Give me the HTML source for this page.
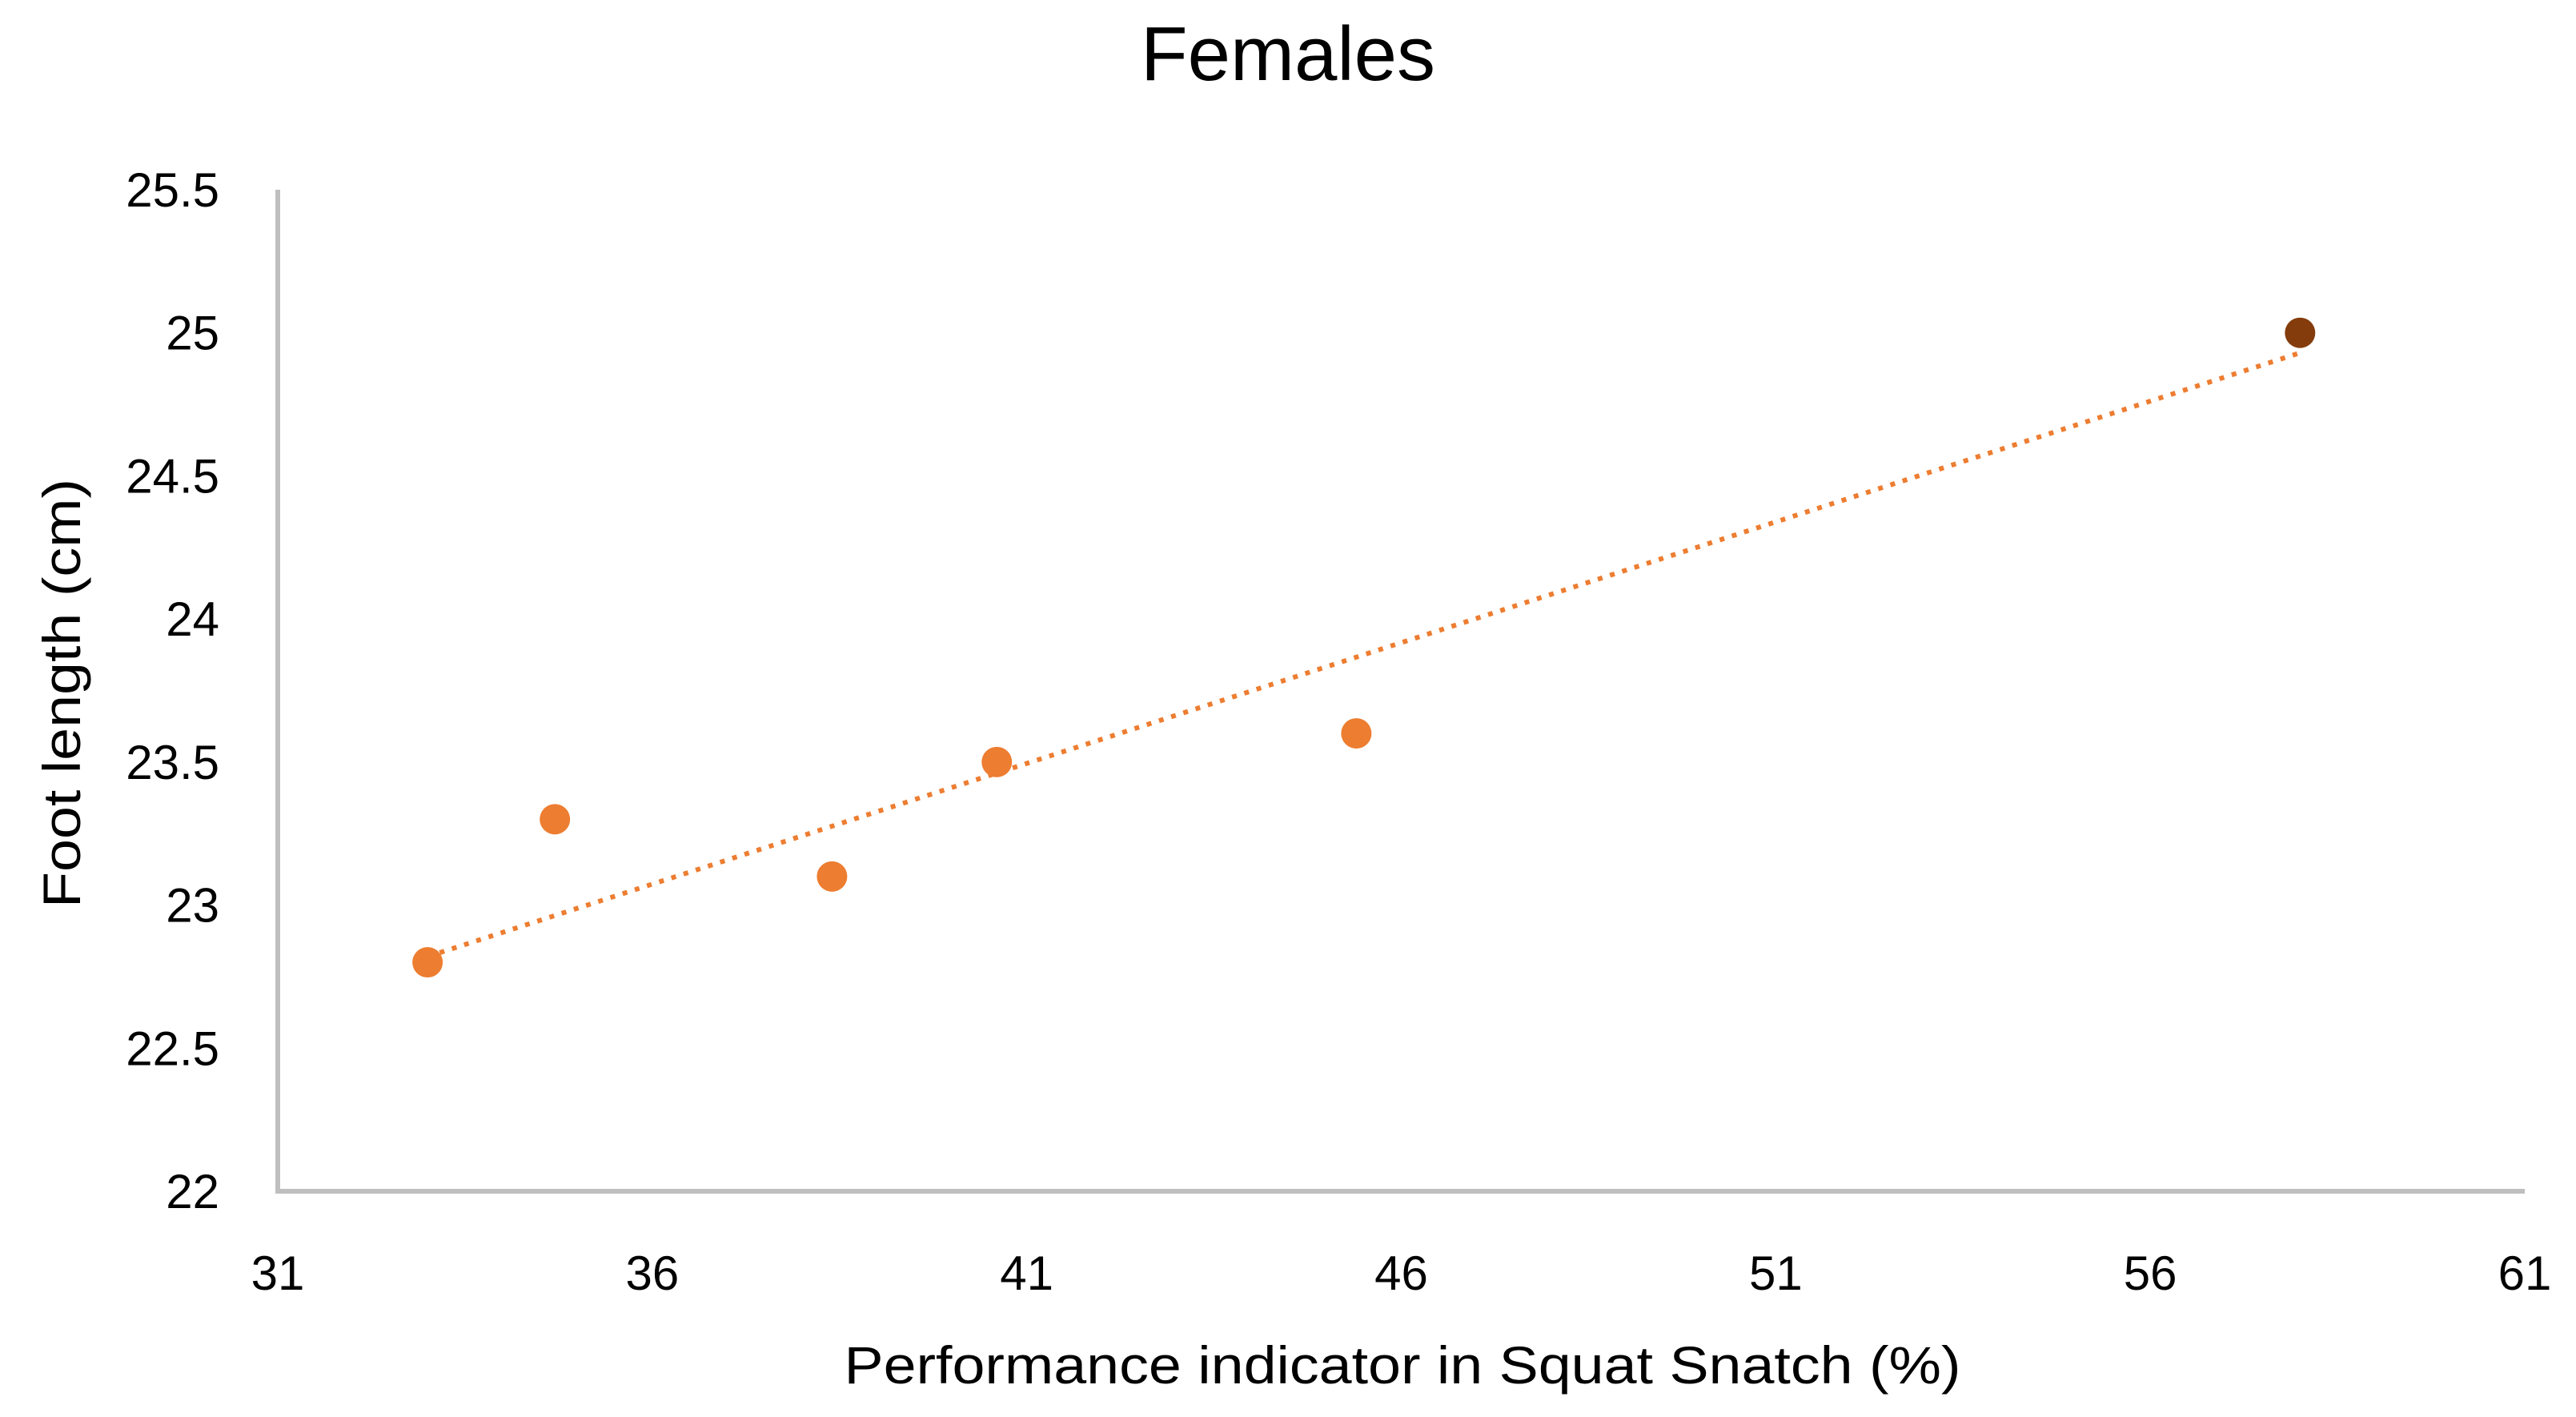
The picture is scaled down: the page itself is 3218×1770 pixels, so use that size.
<!DOCTYPE html>
<html><head><meta charset="utf-8"><style>
html,body{margin:0;padding:0;background:#fff;}
svg{display:block;font-family:"Liberation Sans",sans-serif;}
</style></head><body>
<svg id="chart" width="3218" height="1770" viewBox="0 0 3218 1770">
<rect width="3218" height="1770" fill="#fff"/>
<text x="1609" y="100" font-size="96" text-anchor="middle" fill="#000">Females</text>
<g id="plot"></g>
<text x="1752" y="1728" font-size="66" text-anchor="middle" fill="#000" textLength="1395" lengthAdjust="spacingAndGlyphs">Performance indicator in Squat Snatch (%)</text>
<text transform="translate(100,866) rotate(-90)" font-size="66" text-anchor="middle" fill="#000" textLength="536" lengthAdjust="spacingAndGlyphs">Foot length (cm)</text>
</svg>
<script>
const xValues = [33.0, 34.7, 38.4, 40.6, 45.4, 58.0];
const yValues = [22.8, 23.3, 23.1, 23.5, 23.6, 25.0];
const xTicks = [31, 36, 41, 46, 51, 56, 61];
const yTicks = [22, 22.5, 23, 23.5, 24, 24.5, 25, 25.5];
const trendX = [33.0, 58.0];
const trendY = [22.82, 24.93];

const L=347, R=3154, T=237, B=1488;
const xMin=31, xMax=61, yMin=22, yMax=25.5;
const sx=v=>L+(v-xMin)/(xMax-xMin)*(R-L);
const sy=v=>B-(v-yMin)/(yMax-yMin)*(B-T);
const NS="http://www.w3.org/2000/svg";
const g=document.getElementById('plot');
function mk(tag,attrs){const e=document.createElementNS(NS,tag);for(const k in attrs)e.setAttribute(k,attrs[k]);g.appendChild(e);return e;}

let ya=mk('line',{x1:L,y1:T,x2:L,y2:B,stroke:'#bfbfbf','stroke-width':6});


let xa=mk('line',{x1:L-3,y1:B,x2:R,y2:B,stroke:'#bfbfbf','stroke-width':6});



yTicks.forEach(v=>{
  const t=mk('text',{x:274,y:sy(v)+21,'font-size':60,'text-anchor':'end',fill:'#000'});
  t.textContent=String(v);
  
  
});
xTicks.forEach(v=>{
  const t=mk('text',{x:sx(v),y:1611,'font-size':60,'text-anchor':'middle',fill:'#000'});
  t.textContent=String(v);
  
  
});

const tl=mk('line',{x1:sx(trendX[0]),y1:sy(trendY[0]),x2:sx(trendX[1]),y2:sy(trendY[1]),stroke:'#ED7D31','stroke-width':6,'stroke-dasharray':'6 10'});



xValues.forEach((xv,i)=>{
  const last=i===xValues.length-1;
  const c=mk('circle',{cx:sx(xv),cy:sy(yValues[i]),r:19,fill:last?'#843C0C':'#ED7D31'});
  
  
});
</script>
</body></html>
